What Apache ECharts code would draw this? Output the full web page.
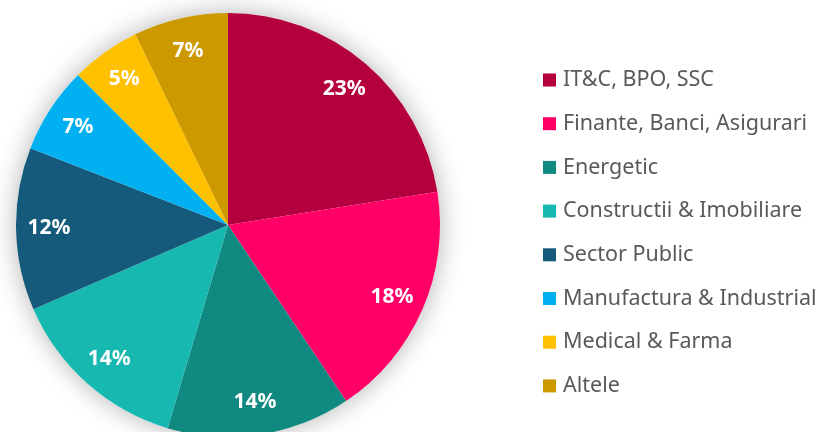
<!DOCTYPE html>
<html>
<head>
<meta charset="utf-8">
<script src="https://cdn.jsdelivr.net/npm/echarts@6/dist/echarts.min.js"></script>
<style>
  html, body { margin: 0; padding: 0; background: #fff; }
  #chart { width: 820px; height: 432px; }
</style>
</head>
<body>
<div id="chart"></div>
<script>
const categories = [
  'IT&C, BPO, SSC',
  'Finante, Banci, Asigurari',
  'Energetic',
  'Constructii & Imobiliare',
  'Sector Public',
  'Manufactura & Industrial',
  'Medical & Farma',
  'Altele'
];
// shares in % (labels show them rounded)
const shares = [22.5, 18.1, 14.0, 13.9, 12.4, 6.6, 5.3, 7.2];
const sliceColors = ['#B5003F', '#FF0066', '#108A80', '#17B8B0', '#155A7A', '#00B0F0', '#FFC000', '#CC9900'];

const chart = echarts.init(document.getElementById('chart'));

const pieData = categories.map((name, i) => ({
  name,
  value: shares[i],
  itemStyle: { color: sliceColors[i] }
}));

const center = [228, 225];

chart.setOption({
  animation: false,
  legend: {
    data: categories,
    orient: 'vertical',
    left: 543,
    top: 69,
    padding: 0,
    icon: 'rect',
    itemWidth: 13,
    itemHeight: 13,
    itemGap: 21.7,
    textStyle: {
      color: '#595959',
      fontSize: 21.5,
      lineHeight: 22,
      fontFamily: 'Noto Sans',
      padding: [0, 0, 0, 2]
    }
  },
  series: [
    {
      // soft shadow behind the pie
      type: 'pie',
      silent: true,
      center,
      radius: [0, 212],
      z: 1,
      label: { show: false },
      itemStyle: {
        color: '#ffffff',
        shadowBlur: 26,
        shadowColor: 'rgba(0,0,0,0.3)'
      },
      data: [{ name: '_bg', value: 1 }]
    },
    {
      type: 'pie',
      center,
      radius: [0, 212],
      startAngle: 90,
      clockwise: true,
      z: 2,
      label: { show: false },
      labelLine: { show: false },
      data: pieData
    },
    {
      // label ring, pushes the percent labels out near the rim
      type: 'pie',
      silent: true,
      center,
      radius: [140, 212],
      startAngle: 90,
      clockwise: true,
      z: 3,
      itemStyle: { color: 'rgba(0,0,0,0)' },
      label: {
        show: true,
        position: 'inside',
        formatter: p => Math.round(p.value) + '%',
        color: '#ffffff',
        fontSize: 21,
        fontWeight: 'bold',
        fontFamily: 'Noto Sans'
      },
      labelLine: { show: false },
      data: categories.map((name, i) => ({ name, value: shares[i] }))
    }
  ]
});
</script>
</body>
</html>
